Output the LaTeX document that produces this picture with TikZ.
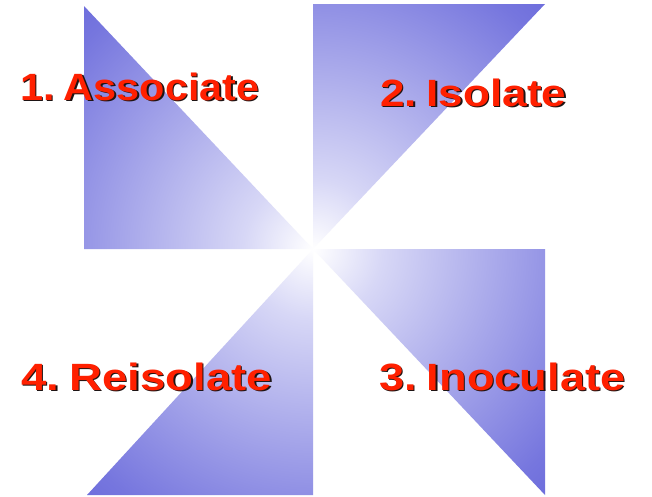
\documentclass[tikz,border=0pt]{standalone}
\usepackage{fontspec}
\setmainfont{Liberation Sans}
\definecolor{pblue}{RGB}{52,52,206}
\definecolor{pmid}{RGB}{118,118,222}
\definecolor{plight}{RGB}{215,215,246}
\definecolor{lred}{RGB}{255,32,0}
\definecolor{lshadow}{RGB}{30,20,20}
\pgfdeclareradialshading{pinwheel}{\pgfpoint{0bp}{0bp}}{%
  color(0bp)=(white); color(5bp)=(plight); color(22bp)=(pmid);
  color(40bp)=(pblue); color(50bp)=(pblue)}
\tikzset{
  lbl/.style={anchor=base west, inner sep=0pt, font=\fontsize{38}{40}\selectfont\bfseries, text=lred},
  shd/.style={lbl, text=lshadow},
}
\newcommand{\wide}[2]{\scalebox{#1}[1]{#2}}
\begin{document}
\begin{tikzpicture}[x=1pt,y=-1pt]
\useasboundingbox[fill=white] (0,0) rectangle (652,496);
\coordinate (c) at (313,249);
\begin{scope}
\clip (84,6) -- (84,249) -- (c) -- cycle
      (313,4) -- (545,4) -- (c) -- cycle
      (c) -- (545,249) -- (545,495) -- cycle
      (c) -- (313,495) -- (87,495) -- cycle;
\shade[shading=pinwheel] (c) circle (350);
\end{scope}
% labels with shadow
\node[shd] (l1s) at (21.5,101.5) {\wide{1.09}{1.\hspace{0.22em}Associate}};
\node[lbl] (l1) at (20,100) {\wide{1.09}{1.\hspace{0.22em}Associate}};
\node[shd] (l2s) at (381.5,107.5) {\wide{1.16}{2.\hspace{0.22em}Isolate}};
\node[lbl] (l2) at (380,106) {\wide{1.16}{2.\hspace{0.22em}Isolate}};
\node[shd] (l4s) at (22.5,391.5) {\wide{1.2}{4.\hspace{0.22em}Reisolate}};
\node[lbl] (l4) at (21,390) {\wide{1.2}{4.\hspace{0.22em}Reisolate}};
\node[shd] (l3s) at (380.5,391.5) {\wide{1.19}{3.\hspace{0.22em}Inoculate}};
\node[lbl] (l3) at (379,390) {\wide{1.19}{3.\hspace{0.22em}Inoculate}};
\end{tikzpicture}
\end{document}
